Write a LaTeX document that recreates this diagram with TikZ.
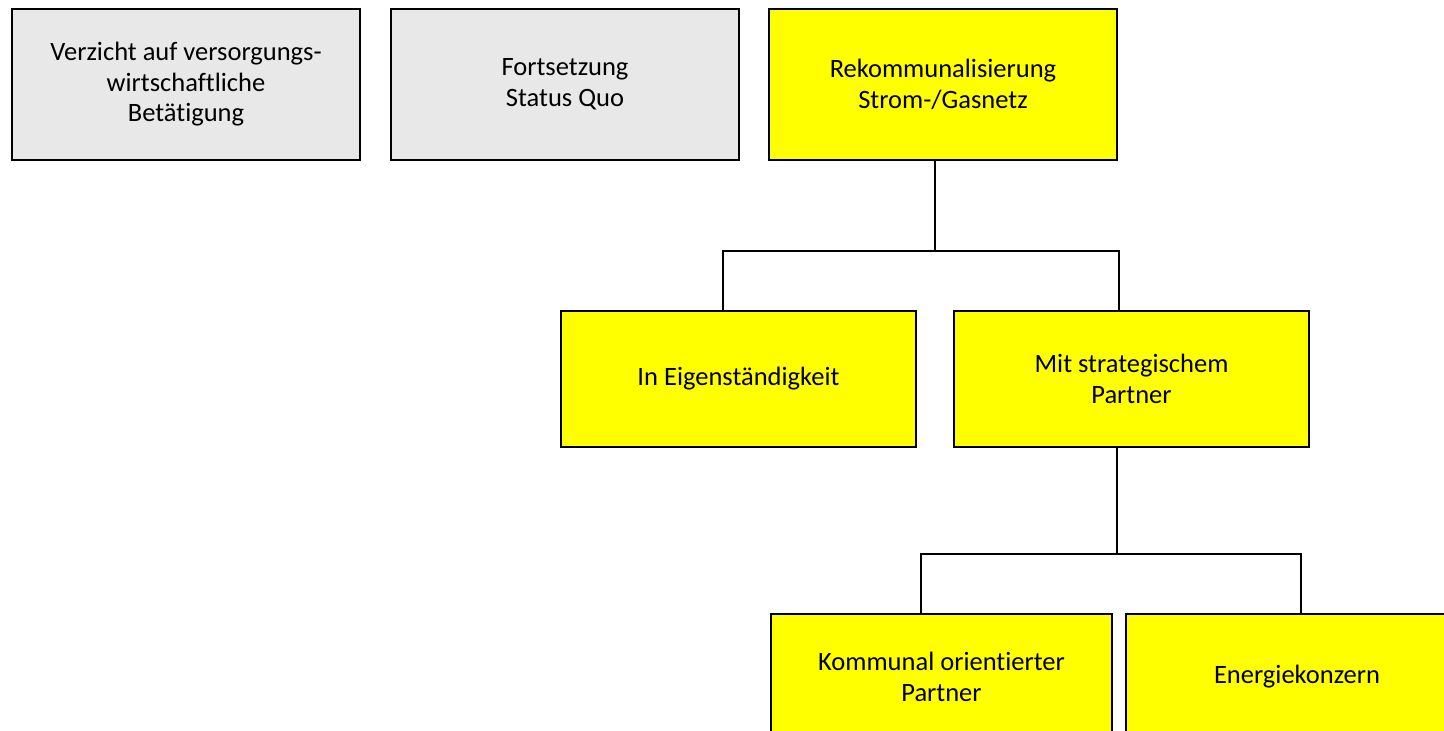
\documentclass[tikz,border=0pt]{standalone}
\usepackage{fontspec}
\setmainfont{Carlito}[Ligatures=NoCommon]
\usepackage{tikz}
\usetikzlibrary{calc,positioning}
\definecolor{boxyellow}{RGB}{255,255,0}
\definecolor{boxgrey}{RGB}{232,232,232}

\begin{document}
\begin{tikzpicture}[x=1pt, y=-1pt,
    optbox/.style={draw=black, line width=1.4pt, minimum width=348pt, align=center,
        font=\fontsize{26.5}{30.5}\selectfont, inner sep=0pt},
    greybox/.style={optbox, fill=boxgrey, minimum height=151pt},
    yellowbox/.style={optbox, fill=boxyellow, minimum width=355pt, minimum height=136pt},
    conn/.style={line width=1.4pt, black}]

    \clip (0,0) rectangle (1444,731);
    \useasboundingbox (0,0) rectangle (1444,731);

    % obere Reihe
    \node[greybox] (verzicht) at (186,84.5) {Verzicht auf versorgungs-\\wirtschaftliche\\Betätigung};
    \node[greybox] (status) at (565,84.5) {Fortsetzung\\Status Quo};
    \node[greybox, fill=boxyellow] (rekom) at (943,84.5) {Rekommunalisierung\\Strom-/Gasnetz};

    % zweite Ebene
    \node[yellowbox] (eigen) at (738.5,379) {In Eigenständigkeit};
    \node[yellowbox] (partner) at (1131.5,379) {Mit strategischem\\Partner};

    % dritte Ebene
    \node[yellowbox, minimum width=341pt, minimum height=126pt] (kommunal) at (941.5,677) {Kommunal orientierter\\Partner};
    \node[yellowbox, minimum width=342pt, minimum height=126pt] (konzern) at (1297,677) {Energiekonzern};

    \coordinate (t1) at (935,251);
    \coordinate (l1) at (723,251);
    \coordinate (r1) at (1119,251);
    \coordinate (t2) at (1117,554);
    \coordinate (l2) at (921,554);
    \coordinate (r2) at (1301,554);

    \draw[conn] (rekom.south -| t1) -- (t1);
    \draw[conn] (eigen.north -| l1) |- (r1) -- (partner.north -| r1);
    \draw[conn] (partner.south -| t2) -- (t2);
    \draw[conn] (kommunal.north -| l2) |- (r2) -- (konzern.north -| r2);

\end{tikzpicture}
\end{document}
